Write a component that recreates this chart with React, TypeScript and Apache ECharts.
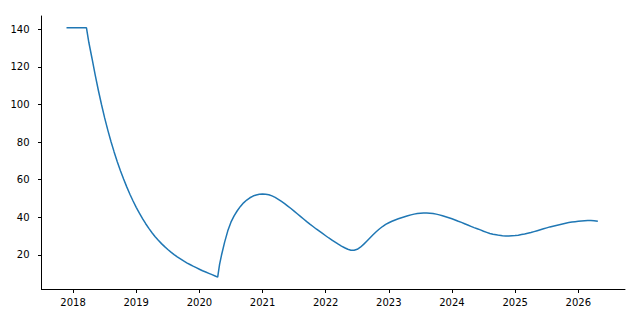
import React, { useEffect, useRef } from "react";
import * as echarts from "echarts";

const years: number[] = [
  2017.896, 2018.212,
  2018.25, 2018.3, 2018.35, 2018.4, 2018.45, 2018.5, 2018.55, 2018.6, 2018.65, 2018.7,
  2018.75, 2018.8, 2018.85, 2018.9, 2018.95, 2019.0, 2019.05, 2019.1, 2019.15, 2019.2,
  2019.25, 2019.3, 2019.35, 2019.4, 2019.45, 2019.5, 2019.55, 2019.6, 2019.65, 2019.7,
  2019.75, 2019.8, 2019.85, 2019.9, 2019.95, 2020.0, 2020.05, 2020.1, 2020.15, 2020.2,
  2020.25, 2020.29,
  2020.32, 2020.35, 2020.4, 2020.45, 2020.5, 2020.55, 2020.6, 2020.65, 2020.7, 2020.75,
  2020.8, 2020.85, 2020.9, 2020.95, 2021.0, 2021.05, 2021.1, 2021.15, 2021.2, 2021.25,
  2021.3, 2021.35, 2021.4, 2021.45, 2021.5, 2021.55, 2021.6, 2021.65, 2021.7, 2021.75,
  2021.8, 2021.85, 2021.9, 2021.95, 2022.0, 2022.05, 2022.1, 2022.15, 2022.2, 2022.25,
  2022.3, 2022.35, 2022.4, 2022.45, 2022.5, 2022.55, 2022.6, 2022.65, 2022.7, 2022.75,
  2022.8, 2022.85, 2022.9, 2022.95, 2023.0, 2023.05, 2023.1, 2023.15, 2023.2, 2023.25,
  2023.3, 2023.35, 2023.4, 2023.45, 2023.5, 2023.55, 2023.6, 2023.65, 2023.7, 2023.75,
  2023.8, 2023.85, 2023.9, 2023.95, 2024.0, 2024.05, 2024.1, 2024.15, 2024.2, 2024.25,
  2024.3, 2024.35, 2024.4, 2024.45, 2024.5, 2024.55, 2024.6, 2024.65, 2024.7, 2024.75,
  2024.8, 2024.85, 2024.9, 2024.95, 2025.0, 2025.05, 2025.1, 2025.15, 2025.2, 2025.25,
  2025.3, 2025.35, 2025.4, 2025.45, 2025.5, 2025.55, 2025.6, 2025.65, 2025.7, 2025.75,
  2025.8, 2025.85, 2025.9, 2025.95, 2026.0, 2026.05, 2026.1, 2026.15, 2026.2, 2026.25,
  2026.31,
];

const values: number[] = [
  140.8, 140.8,
  133.0, 124.5, 115.8, 107.6, 100.0, 92.9, 86.4, 80.3, 74.8, 69.6,
  64.8, 60.4, 56.2, 52.3, 48.7, 45.3, 42.2, 39.3, 36.6, 34.1,
  31.8, 29.7, 27.8, 26.0, 24.4, 22.9, 21.5, 20.2, 19.0, 17.9,
  16.8, 15.8, 14.9, 14.0, 13.2, 12.4, 11.6, 10.9, 10.2, 9.5,
  8.8, 8.2,
  15.0, 19.8, 26.8, 32.8, 37.4, 40.8, 43.5, 45.8, 47.7, 49.2,
  50.4, 51.3, 51.9, 52.3, 52.4, 52.3, 52.0, 51.4, 50.6, 49.6,
  48.5, 47.3, 46.0, 44.7, 43.3, 41.9, 40.5, 39.1, 37.7, 36.4,
  35.1, 33.8, 32.6, 31.4, 30.2, 29.0, 27.9, 26.8, 25.7, 24.7,
  23.8, 23.0, 22.5, 22.5, 23.0, 24.1, 25.6, 27.3, 29.0, 30.7,
  32.3, 33.8, 35.1, 36.2, 37.1, 37.9, 38.6, 39.2, 39.8, 40.3,
  40.8, 41.3, 41.7, 42.0, 42.2, 42.3, 42.3, 42.2, 42.0, 41.7,
  41.3, 40.8, 40.3, 39.8, 39.2, 38.6, 37.9, 37.3, 36.6, 35.9,
  35.2, 34.5, 33.9, 33.3, 32.6, 32.0, 31.4, 31.0, 30.7, 30.4,
  30.2, 30.1, 30.1, 30.2, 30.3, 30.5, 30.8, 31.1, 31.5, 31.9,
  32.4, 32.9, 33.4, 33.9, 34.4, 34.9, 35.3, 35.7, 36.1, 36.5,
  36.9, 37.2, 37.5, 37.7, 37.9, 38.1, 38.2, 38.3, 38.3, 38.2,
  37.9,
];

const xTicks: number[] = [2018, 2019, 2020, 2021, 2022, 2023, 2024, 2025, 2026];
const yTicks: number[] = [20, 40, 60, 80, 100, 120, 140];

export default function App() {
  const ref = useRef<HTMLDivElement>(null);
  useEffect(() => {
    if (!ref.current) return;
    const chart = echarts.init(ref.current, undefined, { renderer: "svg" });
    const font = { fontFamily: "DejaVu Sans", fontSize: 10, color: "#000" };
    chart.setOption({
      animation: false,
      grid: { left: 41.5, right: 15, top: 16, bottom: 30.5, containLabel: false },
      xAxis: {
        type: "value",
        min: 2017.5,
        max: 2026.74,
        axisLine: { show: true, lineStyle: { color: "#000", width: 1 } },
        axisTick: { show: true, inside: false, length: 3.5, customValues: xTicks, lineStyle: { color: "#000", width: 1 } },
        axisLabel: { show: true, customValues: xTicks, margin: 8, formatter: (v: number) => String(Math.round(v)), ...font },
        splitLine: { show: false },
      },
      yAxis: {
        type: "value",
        min: 1.6,
        max: 147.1,
        axisLine: { show: true, lineStyle: { color: "#000", width: 1 } },
        axisTick: { show: true, inside: false, length: 3.5, customValues: yTicks, lineStyle: { color: "#000", width: 1 } },
        axisLabel: { show: true, customValues: yTicks, margin: 12, formatter: (v: number) => String(Math.round(v)), ...font },
        splitLine: { show: false },
      },
      series: [
        {
          type: "line",
          data: years.map((y, i) => [y, values[i]]),
          showSymbol: false,
          symbol: "none",
          lineStyle: { color: "#1f77b4", width: 1.5 },
        },
      ],
    });
    return () => chart.dispose();
  }, []);
  return <div ref={ref} style={{ width: 640, height: 320, position: "absolute", left: 0, top: 0 }} />;
}
